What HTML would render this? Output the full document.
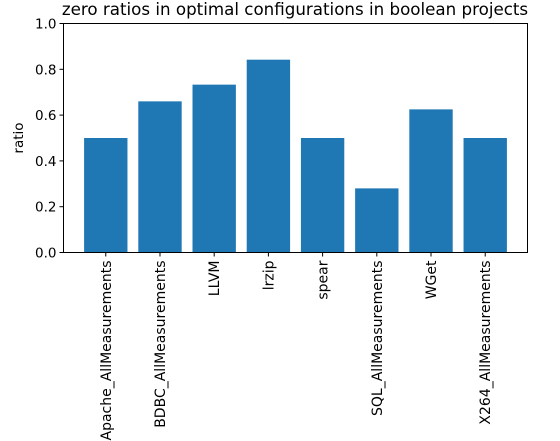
<!DOCTYPE html>
<html><head><meta charset="utf-8"><style>
html,body{margin:0;padding:0;background:#fff;}
svg{display:block;font-family:"DejaVu Sans","Liberation Sans",sans-serif;}
</style></head><body>
<svg id="chart" width="560" height="441" viewBox="0 0 560 441">
<text x="295" y="15" text-anchor="middle" font-size="16.7" fill="#000">zero ratios in optimal configurations in boolean projects</text>
<text transform="translate(23,138) rotate(-90)" text-anchor="middle" font-size="13.5">ratio</text>
<g id="bars"></g><g id="yticks"></g><g id="xticks"></g>
<rect x="63.5" y="23.5" width="464" height="229" fill="none" stroke="#000" stroke-width="1"/>
</svg>
<script>
const categories = ["Apache_AllMeasurements","BDBC_AllMeasurements","LLVM","lrzip","spear","SQL_AllMeasurements","WGet","X264_AllMeasurements"];
const values = [0.5, 0.66, 0.733, 0.842, 0.5, 0.28, 0.625, 0.5];
const yTicks = [0, 0.2, 0.4, 0.6, 0.8, 1.0];
const yTickLabels = ["0.0","0.2","0.4","0.6","0.8","1.0"];
const NS = "http://www.w3.org/2000/svg";
const L = 63.5, R = 527.5, T = 23.5, B = 252.5;
const xMin = -0.78, xMax = categories.length - 1 + 0.78;
function xs(i){ return L + (i - xMin) / (xMax - xMin) * (R - L); }
function ys(v){ return B - v * (B - T); }
const unit = (R - L) / (xMax - xMin);
const bars = document.getElementById('bars');
values.forEach((v, i) => {
  const r = document.createElementNS(NS, 'rect');
  r.setAttribute('x', xs(i) - 0.4 * unit);
  r.setAttribute('width', 0.8 * unit);
  r.setAttribute('y', ys(v));
  r.setAttribute('height', ys(0) - ys(v));
  r.setAttribute('fill', '#1f77b4');
  
  
  bars.appendChild(r);
});
const yg = document.getElementById('yticks');
yTicks.forEach((t, k) => {
  const y = ys(t);
  const l = document.createElementNS(NS, 'line');
  l.setAttribute('x1', L - 4); l.setAttribute('x2', L);
  l.setAttribute('y1', y); l.setAttribute('y2', y);
  l.setAttribute('stroke', '#000');
  
  
  yg.appendChild(l);
  const tx = document.createElementNS(NS, 'text');
  tx.setAttribute('x', L - 7); tx.setAttribute('y', y + 5);
  tx.setAttribute('text-anchor', 'end'); tx.setAttribute('font-size', '13.5');
  tx.textContent = yTickLabels[k];
  
  
  yg.appendChild(tx);
});
const xg = document.getElementById('xticks');
categories.forEach((c, i) => {
  const x = xs(i);
  const l = document.createElementNS(NS, 'line');
  l.setAttribute('x1', x); l.setAttribute('x2', x);
  l.setAttribute('y1', B); l.setAttribute('y2', B + 4);
  l.setAttribute('stroke', '#000');
  
  
  xg.appendChild(l);
  const tx = document.createElementNS(NS, 'text');
  tx.setAttribute('transform', 'translate(' + (x + 5) + ',' + (B + 8) + ') rotate(-90)');
  tx.setAttribute('text-anchor', 'end'); tx.setAttribute('font-size', '14');
  tx.textContent = c;
  
  
  xg.appendChild(tx);
});
</script>
</body></html>
